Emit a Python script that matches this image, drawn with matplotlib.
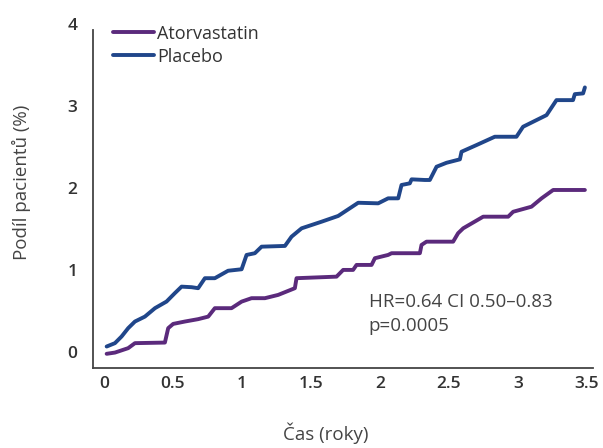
import numpy as np
import matplotlib.pyplot as plt

plt.rcParams["font.family"] = ["Open Sans", "DejaVu Sans"]

# cumulative incidence curves (years, % of patients)
placebo_t = [0.02, 0.08, 0.128, 0.176, 0.225, 0.297, 0.37, 0.454, 0.514, 0.563,
             0.636, 0.683, 0.732, 0.804, 0.90, 0.998, 1.034, 1.094, 1.143, 1.312,
             1.36, 1.433, 1.578, 1.698, 1.843, 1.988, 2.06, 2.133, 2.157, 2.217,
             2.23, 2.326, 2.362, 2.411, 2.483, 2.58, 2.592, 2.70, 2.833, 2.99,
             3.038, 3.208, 3.28, 3.40, 3.413, 3.473, 3.486]
placebo_y = [0.065, 0.106, 0.187, 0.289, 0.37, 0.43, 0.533, 0.614, 0.716, 0.796,
             0.789, 0.777, 0.899, 0.899, 0.99, 1.008, 1.183, 1.204, 1.284, 1.293,
             1.406, 1.508, 1.589, 1.659, 1.82, 1.813, 1.874, 1.874, 2.037, 2.057,
             2.106, 2.098, 2.098, 2.26, 2.308, 2.35, 2.443, 2.524, 2.626, 2.626,
             2.748, 2.89, 3.073, 3.073, 3.146, 3.155, 3.228]

atorva_t = [0.02, 0.08, 0.176, 0.225, 0.442, 0.466, 0.502, 0.587, 0.683, 0.756,
            0.804, 0.925, 0.998, 1.07, 1.167, 1.263, 1.384, 1.396, 1.686, 1.734,
            1.806, 1.831, 1.94, 1.964, 2.06, 2.085, 2.29, 2.302, 2.338, 2.531,
            2.567, 2.604, 2.749, 2.93, 2.966, 3.099, 3.172, 3.256, 3.486]
atorva_y = [-0.024, -0.009, 0.045, 0.106, 0.113, 0.289, 0.341, 0.37, 0.399, 0.43,
            0.533, 0.533, 0.613, 0.655, 0.655, 0.695, 0.777, 0.899, 0.918, 1.0,
            1.0, 1.061, 1.061, 1.143, 1.183, 1.204, 1.204, 1.305, 1.345, 1.345,
            1.448, 1.508, 1.65, 1.65, 1.71, 1.772, 1.874, 1.976, 1.976]

x_ticks = [0, 0.5, 1, 1.5, 2, 2.5, 3, 3.5]
x_labels = ["0", "0.5", "1", "1.5", "2", "2.5", "3", "3.5"]
y_ticks = [0, 1, 2, 3, 4]

PURPLE = "#5b2a7c"
NAVY = "#20468a"
TXT = "#333333"

fig = plt.figure(figsize=(6.03, 4.48), dpi=100)
ax = fig.add_axes([0.154, 0.179, 0.829, 0.767])

ax.plot(atorva_t, atorva_y, color=PURPLE, lw=2.8, solid_capstyle="round",
        solid_joinstyle="round", label="Atorvastatin")
ax.plot(placebo_t, placebo_y, color=NAVY, lw=2.8, solid_capstyle="round",
        solid_joinstyle="round", label="Placebo")

ax.set_xlim(-0.08, 3.543)
ax.set_ylim(-0.195, 4.0)
ax.set_xticks(x_ticks)
ax.set_xticklabels(x_labels)
ax.set_yticks(y_ticks)
ax.tick_params(length=0, labelsize=12.5, colors=TXT)
ax.tick_params(axis="x", pad=6)
ax.tick_params(axis="y", pad=11)
for lab in ax.get_xticklabels() + ax.get_yticklabels():
    lab.set_fontweight("semibold")

for s in ["top", "right"]:
    ax.spines[s].set_visible(False)
for s in ["left", "bottom"]:
    ax.spines[s].set_color("#444444")
    ax.spines[s].set_linewidth(1.3)
ax.spines["left"].set_bounds(-0.195, 3.93)

leg = ax.legend(loc="upper left", bbox_to_anchor=(0.04, 0.999), frameon=False,
                borderpad=0, borderaxespad=0,
                handlelength=2.3, handletextpad=0.17, labelspacing=0.28,
                prop={"size": 13})
for t in leg.get_texts():
    t.set_color(TXT)

ax.text(1.92, 0.457, "HR=0.64 CI 0.50–0.83\np=0.0005", fontsize=13.5, color="#444444",
        ha="left", va="center", linespacing=1.42)

fig.text(0.036, 0.594, "Podíl pacientů (%)", rotation=90, ha="center", va="center",
         fontsize=13.5, color="#444444")
fig.text(0.541, 0.032, "Čas (roky)", ha="center", va="center",
         fontsize=13.5, color="#444444")

fig.savefig("out.png", dpi=100)
